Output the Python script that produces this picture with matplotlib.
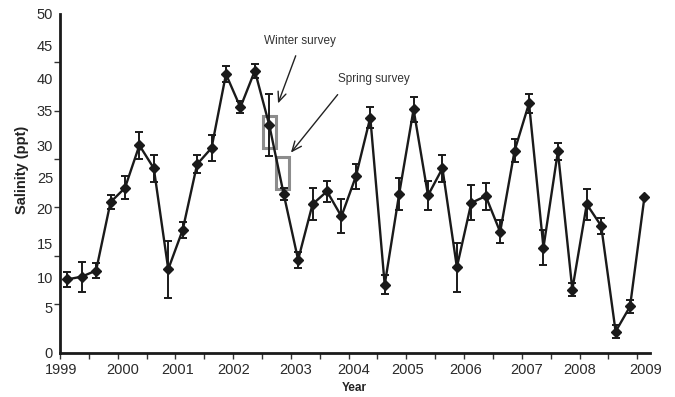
import numpy as np
import matplotlib.pyplot as plt
from matplotlib.patches import Rectangle

plt.rcParams['font.family'] = ['Liberation Sans', 'DejaVu Sans']

# quarterly sampling dates (decimal years)
dates = [1999.125, 1999.375, 1999.625, 1999.875,
         2000.125, 2000.375, 2000.625, 2000.875,
         2001.125, 2001.375, 2001.625, 2001.875,
         2002.125, 2002.375, 2002.625, 2002.875,
         2003.125, 2003.375, 2003.625, 2003.875,
         2004.125, 2004.375, 2004.625, 2004.875,
         2005.125, 2005.375, 2005.625, 2005.875,
         2006.125, 2006.375, 2006.625, 2006.875,
         2007.125, 2007.375, 2007.625, 2007.875,
         2008.125, 2008.375, 2008.625, 2008.875,
         2009.125]

salinity = [10.8, 11.2, 12.1, 22.2, 24.3, 30.6, 27.2, 12.3, 18.1, 27.8,
            30.2, 41.1, 36.2, 41.6, 33.6, 23.4, 13.7, 21.9, 23.8, 20.1,
            26.0, 34.7, 10.0, 23.4, 35.9, 23.2, 27.2, 12.6, 22.1, 23.1,
            17.8, 29.8, 36.8, 15.5, 29.7, 9.3, 21.9, 18.7, 3.1, 6.8,
            23.0]

sal_err = [1.1, 2.2, 1.1, 1.0, 1.7, 2.0, 2.0, 4.2, 1.2, 1.3,
           1.9, 1.2, 0.9, 1.0, 4.6, 0.9, 1.2, 2.4, 1.6, 2.5,
           1.9, 1.5, 1.4, 2.3, 1.8, 2.1, 2.0, 3.6, 2.6, 2.0,
           1.7, 1.7, 1.4, 2.6, 1.2, 0.9, 2.3, 1.15, 1.0, 1.0,
           0.0]

# printed axis labels (placed where they appear on the original)
ylabels = ['0', '5', '10', '15', '20', '25', '30', '35', '40', '45', '50']
ylabel_pos = [0.0, 6.7, 11.1, 16.1, 21.3, 25.8, 30.5, 35.7, 40.5, 45.4, 50.0]
xlabels = ['1999', '2000', '2001', '2002', '2003', '2004',
           '2005', '2006', '2007', '2008', '2009']
xlabel_pos = [1999.02, 2000.09, 2001.04, 2002.0, 2003.09, 2004.08,
              2005.03, 2006.02, 2007.08, 2008.01, 2009.14]

fig = plt.figure(figsize=(6.75, 3.97), dpi=100)
ax = fig.add_axes([0.0889, 0.112, 0.874, 0.853])

ax.errorbar(dates, salinity, yerr=sal_err, color='#1a1a1a', lw=1.7,
            marker='D', ms=5.5, mfc='#1a1a1a', mec='#1a1a1a',
            ecolor='#1a1a1a', elinewidth=1.4, capsize=2.8, capthick=1.4)

ax.set_xlim(1999, 2009.22)
ax.set_ylim(0, 50)

for s in ['top', 'right']:
    ax.spines[s].set_visible(False)
for s in ['left', 'bottom']:
    ax.spines[s].set_linewidth(2)
    ax.spines[s].set_color('#1a1a1a')

# y axis: ticks at 7 even steps, labels where printed
ax.set_yticks(np.linspace(0, 50, 8), minor=True)
ax.set_yticks(ylabel_pos)
ax.set_yticklabels(ylabels, fontsize=10.5, color='#2a2a2a')
ax.tick_params(axis='y', which='major', length=0, pad=5)
ax.tick_params(axis='y', which='minor', length=4, width=1, color='#333333')

# x axis: half-year ticks, year labels as text
ax.set_xticks(np.arange(1999, 2009.01, 0.5))
ax.set_xticklabels([])
ax.tick_params(axis='x', length=4, width=1, color='#333333')
for lab, xp in zip(xlabels, xlabel_pos):
    ax.text(xp, -0.032, lab, transform=ax.get_xaxis_transform(),
            ha='center', va='top', fontsize=10.5, color='#2a2a2a')

ax.text(2004.1, -0.088, 'Year', transform=ax.get_xaxis_transform(),
        ha='center', va='top', fontsize=8.5, fontweight='bold', color='#222222')
ax.text(-0.064, 0.54, 'Salinity (ppt)', transform=ax.transAxes, rotation=90,
        ha='center', va='center', fontsize=10.5, fontweight='bold', color='#222222')

# survey boxes
ax.add_patch(Rectangle((2002.51, 30.25), 0.23, 4.73, fill=False,
                       ec='#8c8c8c', lw=2.2))
ax.add_patch(Rectangle((2002.74, 24.15), 0.23, 4.68, fill=False,
                       ec='#8c8c8c', lw=2.2))

arrow = dict(arrowstyle='->,head_length=0.7,head_width=0.3', color='#222222', lw=1)
ax.annotate('', xy=(2002.76, 36.4), xytext=(2003.10, 44.2), arrowprops=arrow)
ax.annotate('', xy=(2002.97, 29.2), xytext=(2003.84, 38.4), arrowprops=arrow)
ax.text(2003.16, 46.0, 'Winter survey', ha='center', va='center',
        fontsize=8.5, color='#333333')
ax.text(2004.43, 40.4, 'Spring survey', ha='center', va='center',
        fontsize=8.5, color='#333333')

fig.savefig('out.png', dpi=100)
